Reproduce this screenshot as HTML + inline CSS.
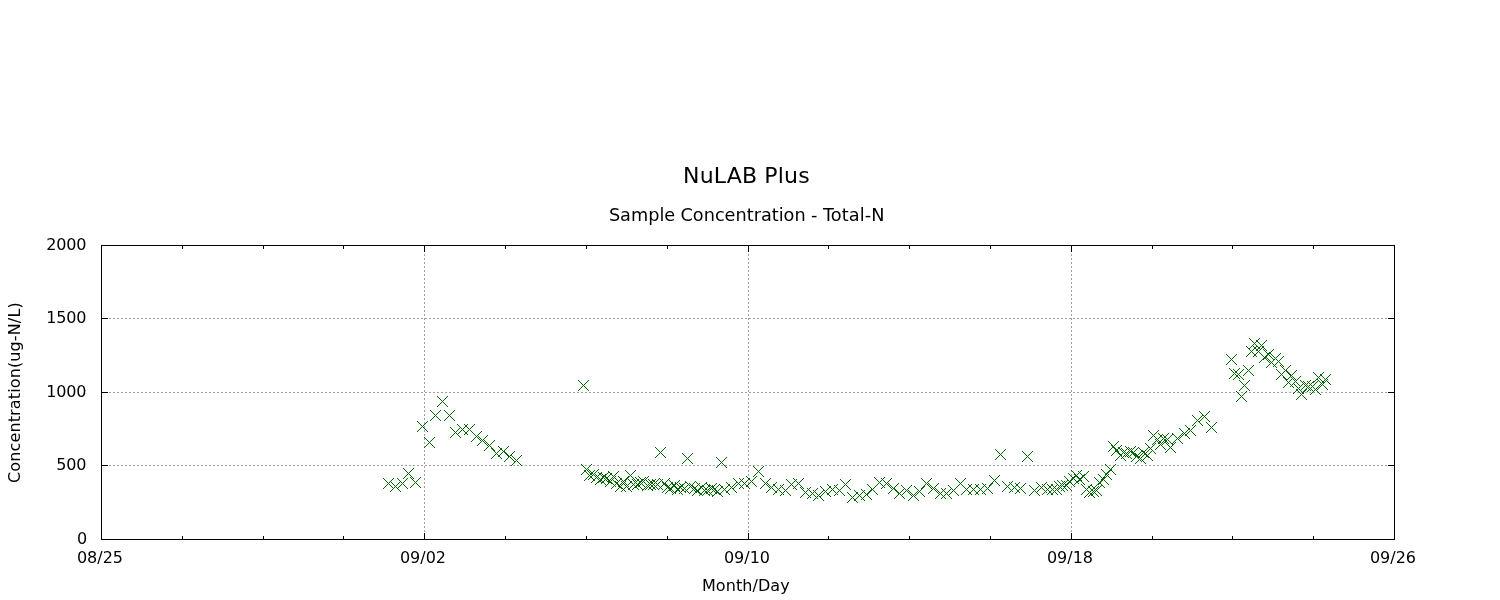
<!DOCTYPE html>
<html lang="en"><head><meta charset="utf-8"><title>NuLAB Plus</title>
<style>html,body{margin:0;padding:0;background:#fff;overflow:hidden}svg{display:block}text{font-family:"DejaVu Sans","Liberation Sans",sans-serif;fill:#000}</style></head><body>
<svg width="1500" height="600" viewBox="0 0 1500 600">
<rect width="1500" height="600" fill="#fff"/>
<path d="M101 465.5H1395M101 392.5H1395M101 318.5H1395M424.5 540V245M748.5 540V245M1071.5 540V245" stroke="#a0a0a0" stroke-width="1" stroke-dasharray="2 2" fill="none"/>
<path d="M101 539.5h7M1395 539.5h-7M101 465.5h7M1395 465.5h-7M101 392.5h7M1395 392.5h-7M101 318.5h7M1395 318.5h-7M101 245.5h7M1395 245.5h-7M101.5 540v-7M101.5 245v7M182.5 540v-4M182.5 245v4M263.5 540v-4M263.5 245v4M343.5 540v-4M343.5 245v4M424.5 540v-7M424.5 245v7M505.5 540v-4M505.5 245v4M586.5 540v-4M586.5 245v4M667.5 540v-4M667.5 245v4M748.5 540v-7M748.5 245v7M828.5 540v-4M828.5 245v4M909.5 540v-4M909.5 245v4M990.5 540v-4M990.5 245v4M1071.5 540v-7M1071.5 245v7M1152.5 540v-4M1152.5 245v4M1232.5 540v-4M1232.5 245v4M1313.5 540v-4M1313.5 245v4M1394.5 540v-7M1394.5 245v7" stroke="#000" stroke-width="1" fill="none" shape-rendering="crispEdges"/>
<path d="M383.2 478.2l10.6 10.6M383.2 488.8l10.6 -10.6M390.2 481.2l10.6 10.6M390.2 491.8l10.6 -10.6M397.2 478.2l10.6 10.6M397.2 488.8l10.6 -10.6M403.2 468.2l10.6 10.6M403.2 478.8l10.6 -10.6M410.2 477.2l10.6 10.6M410.2 487.8l10.6 -10.6M417.2 421.2l10.6 10.6M417.2 431.8l10.6 -10.6M424.2 437.2l10.6 10.6M424.2 447.8l10.6 -10.6M430.2 410.2l10.6 10.6M430.2 420.8l10.6 -10.6M437.2 396.2l10.6 10.6M437.2 406.8l10.6 -10.6M444.2 410.2l10.6 10.6M444.2 420.8l10.6 -10.6M450.2 427.2l10.6 10.6M450.2 437.8l10.6 -10.6M457.2 424.2l10.6 10.6M457.2 434.8l10.6 -10.6M464.2 424.2l10.6 10.6M464.2 434.8l10.6 -10.6M471.2 431.2l10.6 10.6M471.2 441.8l10.6 -10.6M477.2 435.2l10.6 10.6M477.2 445.8l10.6 -10.6M484.2 440.2l10.6 10.6M484.2 450.8l10.6 -10.6M491.2 448.2l10.6 10.6M491.2 458.8l10.6 -10.6M498.2 446.2l10.6 10.6M498.2 456.8l10.6 -10.6M504.2 451.2l10.6 10.6M504.2 461.8l10.6 -10.6M511.2 455.2l10.6 10.6M511.2 465.8l10.6 -10.6M578.2 380.2l10.6 10.6M578.2 390.8l10.6 -10.6M581.2 464.2l10.6 10.6M581.2 474.8l10.6 -10.6M584.2 470.2l10.6 10.6M584.2 480.8l10.6 -10.6M588.2 469.2l10.6 10.6M588.2 479.8l10.6 -10.6M591.2 472.2l10.6 10.6M591.2 482.8l10.6 -10.6M595.2 474.2l10.6 10.6M595.2 484.8l10.6 -10.6M598.2 472.2l10.6 10.6M598.2 482.8l10.6 -10.6M601.2 473.2l10.6 10.6M601.2 483.8l10.6 -10.6M605.2 476.2l10.6 10.6M605.2 486.8l10.6 -10.6M608.2 471.2l10.6 10.6M608.2 481.8l10.6 -10.6M611.2 478.2l10.6 10.6M611.2 488.8l10.6 -10.6M615.2 481.2l10.6 10.6M615.2 491.8l10.6 -10.6M618.2 476.2l10.6 10.6M618.2 486.8l10.6 -10.6M621.2 481.2l10.6 10.6M621.2 491.8l10.6 -10.6M625.2 470.2l10.6 10.6M625.2 480.8l10.6 -10.6M628.2 479.2l10.6 10.6M628.2 489.8l10.6 -10.6M632.2 479.2l10.6 10.6M632.2 489.8l10.6 -10.6M635.2 477.2l10.6 10.6M635.2 487.8l10.6 -10.6M638.2 476.2l10.6 10.6M638.2 486.8l10.6 -10.6M642.2 480.2l10.6 10.6M642.2 490.8l10.6 -10.6M645.2 479.2l10.6 10.6M645.2 489.8l10.6 -10.6M648.2 479.2l10.6 10.6M648.2 489.8l10.6 -10.6M652.2 479.2l10.6 10.6M652.2 489.8l10.6 -10.6M655.2 447.2l10.6 10.6M655.2 457.8l10.6 -10.6M659.2 478.2l10.6 10.6M659.2 488.8l10.6 -10.6M662.2 482.2l10.6 10.6M662.2 492.8l10.6 -10.6M665.2 483.2l10.6 10.6M665.2 493.8l10.6 -10.6M669.2 480.2l10.6 10.6M669.2 490.8l10.6 -10.6M672.2 484.2l10.6 10.6M672.2 494.8l10.6 -10.6M675.2 482.2l10.6 10.6M675.2 492.8l10.6 -10.6M679.2 483.2l10.6 10.6M679.2 493.8l10.6 -10.6M682.2 453.2l10.6 10.6M682.2 463.8l10.6 -10.6M685.2 481.2l10.6 10.6M685.2 491.8l10.6 -10.6M689.2 483.2l10.6 10.6M689.2 493.8l10.6 -10.6M692.2 485.2l10.6 10.6M692.2 495.8l10.6 -10.6M696.2 482.2l10.6 10.6M696.2 492.8l10.6 -10.6M699.2 485.2l10.6 10.6M699.2 495.8l10.6 -10.6M702.2 485.2l10.6 10.6M702.2 495.8l10.6 -10.6M706.2 483.2l10.6 10.6M706.2 493.8l10.6 -10.6M709.2 484.2l10.6 10.6M709.2 494.8l10.6 -10.6M712.2 486.2l10.6 10.6M712.2 496.8l10.6 -10.6M716.2 457.2l10.6 10.6M716.2 467.8l10.6 -10.6M719.2 484.2l10.6 10.6M719.2 494.8l10.6 -10.6M726.2 482.2l10.6 10.6M726.2 492.8l10.6 -10.6M733.2 478.2l10.6 10.6M733.2 488.8l10.6 -10.6M739.2 478.2l10.6 10.6M739.2 488.8l10.6 -10.6M746.2 476.2l10.6 10.6M746.2 486.8l10.6 -10.6M753.2 466.2l10.6 10.6M753.2 476.8l10.6 -10.6M760.2 478.2l10.6 10.6M760.2 488.8l10.6 -10.6M766.2 482.2l10.6 10.6M766.2 492.8l10.6 -10.6M773.2 484.2l10.6 10.6M773.2 494.8l10.6 -10.6M780.2 485.2l10.6 10.6M780.2 495.8l10.6 -10.6M786.2 479.2l10.6 10.6M786.2 489.8l10.6 -10.6M793.2 478.2l10.6 10.6M793.2 488.8l10.6 -10.6M800.2 487.2l10.6 10.6M800.2 497.8l10.6 -10.6M807.2 488.2l10.6 10.6M807.2 498.8l10.6 -10.6M813.2 490.2l10.6 10.6M813.2 500.8l10.6 -10.6M820.2 486.2l10.6 10.6M820.2 496.8l10.6 -10.6M827.2 484.2l10.6 10.6M827.2 494.8l10.6 -10.6M834.2 485.2l10.6 10.6M834.2 495.8l10.6 -10.6M840.2 479.2l10.6 10.6M840.2 489.8l10.6 -10.6M847.2 492.2l10.6 10.6M847.2 502.8l10.6 -10.6M854.2 490.2l10.6 10.6M854.2 500.8l10.6 -10.6M861.2 489.2l10.6 10.6M861.2 499.8l10.6 -10.6M867.2 484.2l10.6 10.6M867.2 494.8l10.6 -10.6M874.2 477.2l10.6 10.6M874.2 487.8l10.6 -10.6M881.2 478.2l10.6 10.6M881.2 488.8l10.6 -10.6M888.2 483.2l10.6 10.6M888.2 493.8l10.6 -10.6M894.2 488.2l10.6 10.6M894.2 498.8l10.6 -10.6M901.2 485.2l10.6 10.6M901.2 495.8l10.6 -10.6M908.2 490.2l10.6 10.6M908.2 500.8l10.6 -10.6M914.2 486.2l10.6 10.6M914.2 496.8l10.6 -10.6M921.2 478.2l10.6 10.6M921.2 488.8l10.6 -10.6M928.2 483.2l10.6 10.6M928.2 493.8l10.6 -10.6M935.2 488.2l10.6 10.6M935.2 498.8l10.6 -10.6M941.2 488.2l10.6 10.6M941.2 498.8l10.6 -10.6M948.2 485.2l10.6 10.6M948.2 495.8l10.6 -10.6M955.2 478.2l10.6 10.6M955.2 488.8l10.6 -10.6M961.2 484.2l10.6 10.6M961.2 494.8l10.6 -10.6M968.2 484.2l10.6 10.6M968.2 494.8l10.6 -10.6M975.2 484.2l10.6 10.6M975.2 494.8l10.6 -10.6M982.2 483.2l10.6 10.6M982.2 493.8l10.6 -10.6M989.2 475.2l10.6 10.6M989.2 485.8l10.6 -10.6M995.2 449.2l10.6 10.6M995.2 459.8l10.6 -10.6M1002.2 481.2l10.6 10.6M1002.2 491.8l10.6 -10.6M1009.2 482.2l10.6 10.6M1009.2 492.8l10.6 -10.6M1015.2 483.2l10.6 10.6M1015.2 493.8l10.6 -10.6M1022.2 451.2l10.6 10.6M1022.2 461.8l10.6 -10.6M1029.2 485.2l10.6 10.6M1029.2 495.8l10.6 -10.6M1036.2 482.2l10.6 10.6M1036.2 492.8l10.6 -10.6M1042.2 484.2l10.6 10.6M1042.2 494.8l10.6 -10.6M1047.2 484.2l10.6 10.6M1047.2 494.8l10.6 -10.6M1051.2 484.2l10.6 10.6M1051.2 494.8l10.6 -10.6M1054.2 481.2l10.6 10.6M1054.2 491.8l10.6 -10.6M1057.2 480.2l10.6 10.6M1057.2 490.8l10.6 -10.6M1061.2 480.2l10.6 10.6M1061.2 490.8l10.6 -10.6M1064.2 476.2l10.6 10.6M1064.2 486.8l10.6 -10.6M1068.2 473.2l10.6 10.6M1068.2 483.8l10.6 -10.6M1071.2 470.2l10.6 10.6M1071.2 480.8l10.6 -10.6M1074.2 474.2l10.6 10.6M1074.2 484.8l10.6 -10.6M1078.2 471.2l10.6 10.6M1078.2 481.8l10.6 -10.6M1081.2 484.2l10.6 10.6M1081.2 494.8l10.6 -10.6M1084.2 487.2l10.6 10.6M1084.2 497.8l10.6 -10.6M1088.2 486.2l10.6 10.6M1088.2 496.8l10.6 -10.6M1091.2 485.2l10.6 10.6M1091.2 495.8l10.6 -10.6M1094.2 477.2l10.6 10.6M1094.2 487.8l10.6 -10.6M1098.2 474.2l10.6 10.6M1098.2 484.8l10.6 -10.6M1101.2 469.2l10.6 10.6M1101.2 479.8l10.6 -10.6M1105.2 464.2l10.6 10.6M1105.2 474.8l10.6 -10.6M1108.2 441.2l10.6 10.6M1108.2 451.8l10.6 -10.6M1111.2 445.2l10.6 10.6M1111.2 455.8l10.6 -10.6M1115.2 450.2l10.6 10.6M1115.2 460.8l10.6 -10.6M1118.2 447.2l10.6 10.6M1118.2 457.8l10.6 -10.6M1121.2 448.2l10.6 10.6M1121.2 458.8l10.6 -10.6M1125.2 446.2l10.6 10.6M1125.2 456.8l10.6 -10.6M1128.2 447.2l10.6 10.6M1128.2 457.8l10.6 -10.6M1131.2 451.2l10.6 10.6M1131.2 461.8l10.6 -10.6M1135.2 453.2l10.6 10.6M1135.2 463.8l10.6 -10.6M1138.2 447.2l10.6 10.6M1138.2 457.8l10.6 -10.6M1142.2 450.2l10.6 10.6M1142.2 460.8l10.6 -10.6M1145.2 443.2l10.6 10.6M1145.2 453.8l10.6 -10.6M1148.2 430.2l10.6 10.6M1148.2 440.8l10.6 -10.6M1152.2 434.2l10.6 10.6M1152.2 444.8l10.6 -10.6M1155.2 439.2l10.6 10.6M1155.2 449.8l10.6 -10.6M1158.2 433.2l10.6 10.6M1158.2 443.8l10.6 -10.6M1162.2 434.2l10.6 10.6M1162.2 444.8l10.6 -10.6M1165.2 442.2l10.6 10.6M1165.2 452.8l10.6 -10.6M1172.2 433.2l10.6 10.6M1172.2 443.8l10.6 -10.6M1179.2 428.2l10.6 10.6M1179.2 438.8l10.6 -10.6M1185.2 425.2l10.6 10.6M1185.2 435.8l10.6 -10.6M1192.2 415.2l10.6 10.6M1192.2 425.8l10.6 -10.6M1199.2 411.2l10.6 10.6M1199.2 421.8l10.6 -10.6M1206.2 422.2l10.6 10.6M1206.2 432.8l10.6 -10.6M1226.2 354.2l10.6 10.6M1226.2 364.8l10.6 -10.6M1229.2 368.2l10.6 10.6M1229.2 378.8l10.6 -10.6M1233.2 369.2l10.6 10.6M1233.2 379.8l10.6 -10.6M1236.2 391.2l10.6 10.6M1236.2 401.8l10.6 -10.6M1239.2 380.2l10.6 10.6M1239.2 390.8l10.6 -10.6M1243.2 365.2l10.6 10.6M1243.2 375.8l10.6 -10.6M1246.2 346.2l10.6 10.6M1246.2 356.8l10.6 -10.6M1249.2 338.2l10.6 10.6M1249.2 348.8l10.6 -10.6M1253.2 346.2l10.6 10.6M1253.2 356.8l10.6 -10.6M1256.2 340.2l10.6 10.6M1256.2 350.8l10.6 -10.6M1259.2 352.2l10.6 10.6M1259.2 362.8l10.6 -10.6M1263.2 349.2l10.6 10.6M1263.2 359.8l10.6 -10.6M1266.2 357.2l10.6 10.6M1266.2 367.8l10.6 -10.6M1270.2 353.2l10.6 10.6M1270.2 363.8l10.6 -10.6M1273.2 356.2l10.6 10.6M1273.2 366.8l10.6 -10.6M1276.2 369.2l10.6 10.6M1276.2 379.8l10.6 -10.6M1280.2 365.2l10.6 10.6M1280.2 375.8l10.6 -10.6M1283.2 377.2l10.6 10.6M1283.2 387.8l10.6 -10.6M1286.2 370.2l10.6 10.6M1286.2 380.8l10.6 -10.6M1290.2 376.2l10.6 10.6M1290.2 386.8l10.6 -10.6M1293.2 383.2l10.6 10.6M1293.2 393.8l10.6 -10.6M1296.2 389.2l10.6 10.6M1296.2 399.8l10.6 -10.6M1300.2 380.2l10.6 10.6M1300.2 390.8l10.6 -10.6M1303.2 381.2l10.6 10.6M1303.2 391.8l10.6 -10.6M1307.2 381.2l10.6 10.6M1307.2 391.8l10.6 -10.6M1310.2 384.2l10.6 10.6M1310.2 394.8l10.6 -10.6M1313.2 372.2l10.6 10.6M1313.2 382.8l10.6 -10.6M1317.2 379.2l10.6 10.6M1317.2 389.8l10.6 -10.6M1320.2 374.2l10.6 10.6M1320.2 384.8l10.6 -10.6" stroke="#006400" stroke-width="1" fill="none" shape-rendering="crispEdges"/>
<rect x="101.5" y="245.5" width="1293" height="294" fill="none" stroke="#000" stroke-width="1" shape-rendering="crispEdges"/>
<text x="683" y="183" font-size="22" textLength="126.6" lengthAdjust="spacing">NuLAB Plus</text>
<text y="221" font-size="17.7"><tspan x="608.9">Sample </tspan><tspan x="680.5">Concentration </tspan><tspan x="811.1">- </tspan><tspan x="822.9" letter-spacing="0.12">Total-N</tspan></text>
<text x="87.1" y="544" font-size="16" text-anchor="end" letter-spacing="-0.18">0</text>
<text x="86.2" y="470" font-size="16" text-anchor="end" letter-spacing="-0.18">500</text>
<text x="86.2" y="397" font-size="16" text-anchor="end" letter-spacing="-0.18">1000</text>
<text x="86.2" y="323" font-size="16" text-anchor="end" letter-spacing="-0.18">1500</text>
<text x="86.2" y="250" font-size="16" text-anchor="end" letter-spacing="-0.18">2000</text>
<text x="100" y="563" font-size="16" text-anchor="middle">08/25</text>
<text x="423" y="563" font-size="16" text-anchor="middle">09/02</text>
<text x="747" y="563" font-size="16" text-anchor="middle">09/10</text>
<text x="1070" y="563" font-size="16" text-anchor="middle">09/18</text>
<text x="1393" y="563" font-size="16" text-anchor="middle">09/26</text>
<text x="701.9" y="591" font-size="16" textLength="87.8" lengthAdjust="spacing">Month/Day</text>
<text transform="translate(19.5 483) rotate(-90)" font-size="16" textLength="180.7" lengthAdjust="spacing">Concentration(ug-N/L)</text>
</svg></body></html>
